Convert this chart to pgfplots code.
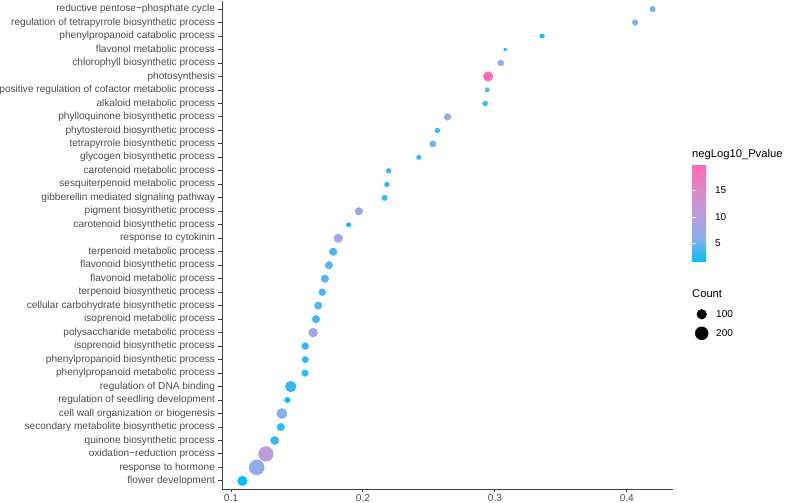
\documentclass[border=0pt]{standalone}
\usepackage{pgfplots}
\pgfplotsset{compat=1.18}
\usepackage{pgfplotstable}
\usepackage{fontspec}
\setmainfont{Liberation Sans}
\usetikzlibrary{calc}

\pgfplotstableread{
y x c p
36 0.4195 30 5.2
35 0.4063 30 5.5
34 0.3358 23 2.3
33 0.3078 20 1.8
32 0.3045 37 7.0
31 0.2949 97 19.7
30 0.2942 23 4.5
29 0.2927 28 4.0
28 0.2642 45 7.0
27 0.2564 25 3.5
26 0.2530 37 5.5
25 0.2424 23 2.8
24 0.2195 23 2.2
23 0.2182 25 2.8
22 0.2164 30 3.5
21 0.1970 56 8.0
20 0.1892 22 1.8
19 0.1813 74 8.5
18 0.1775 56 4.0
17 0.1742 56 4.5
16 0.1712 56 4.3
15 0.1692 45 3.8
14 0.1661 56 4.2
13 0.1644 56 3.8
12 0.1623 81 8.0
11 0.1563 45 3.2
10 0.1563 37 2.8
9 0.1561 41 2.8
8 0.1453 132 3.2
7 0.1428 30 1.7
6 0.1386 115 6.0
5 0.1377 56 3.2
4 0.1331 68 3.2
3 0.1265 275 10.5
2 0.1195 290 7.0
1 0.1087 97 1.55
}\godata

\pgfplotstableread{
x y c
9.7 38.7 100
9.7 19.7 200
}\sizedata

\pgfplotsset{
  colormap={ggpink}{rgb255(0)=(0,191,255) rgb255(1)=(137,175,236) rgb255(2)=(188,156,217) rgb255(3)=(225,134,198) rgb255(4)=(255,105,180)},
  sizemarks/.style={
    visualization depends on={\thisrow{c} \as \cnt},
    scatter/@pre marker code/.append style={/tikz/mark size={(3.3+11.8*sqrt((\cnt-20)/270))/2}},
  },
}
\newcommand{\axfont}{\fontsize{10.1pt}{12pt}\selectfont}
\newcommand{\legfont}{\fontsize{10pt}{12pt}\selectfont}
\newcommand{\titfont}{\fontsize{11.2pt}{13pt}\selectfont}

\begin{document}
\begin{tikzpicture}
\path[use as bounding box] (0,0) rectangle (793pt,503pt);
\begin{axis}[
  at={(222pt,14pt)}, anchor=south west,
  scale only axis, width=451pt, height=488pt,
  xmin=0.0932, xmax=0.4350, ymin=0.4, ymax=36.6,
  axis x line*=bottom, axis y line*=left,
  axis line style={-, black!75, line width=0.9pt},
  tick align=outside, major tick length=3.5pt,
  tick style={black!75, line width=0.9pt},
  xtick={0.1,0.2,0.3,0.4},
  xticklabels={0.1,0.2,0.3,0.4},
  xticklabel style={yshift=1.6pt},
  ytick={1,...,36},
  yticklabels={flower development, response to hormone, oxidation−reduction process, quinone biosynthetic process, secondary metabolite biosynthetic process, cell wall organization or biogenesis, regulation of seedling development, regulation of DNA binding, phenylpropanoid metabolic process, phenylpropanoid biosynthetic process, isoprenoid biosynthetic process, polysaccharide metabolic process, isoprenoid metabolic process, cellular carbohydrate biosynthetic process, terpenoid biosynthetic process, flavonoid metabolic process, flavonoid biosynthetic process, terpenoid metabolic process, response to cytokinin, carotenoid biosynthetic process, pigment biosynthetic process, gibberellin mediated signaling pathway, sesquiterpenoid metabolic process, carotenoid metabolic process, glycogen biosynthetic process, tetrapyrrole biosynthetic process, phytosteroid biosynthetic process, phylloquinone biosynthetic process, alkaloid metabolic process, positive regulation of cofactor metabolic process, photosynthesis, chlorophyll biosynthetic process, flavonol metabolic process, phenylpropanoid catabolic process, regulation of tetrapyrrole biosynthetic process, reductive pentose−phosphate cycle},
  ticklabel style={font=\axfont, text=black!70},
  colormap name=ggpink,
  point meta min=1.55, point meta max=19.7,
  colorbar shift/.style={xshift=0pt},
  colorbar,
  colorbar style={
    at={($(parent axis.south west)+(470pt,324pt)$)}, anchor=north west,
    xshift=0pt,
    scale only axis, width=19.5pt, height=97pt,
    ytick={5,10,15}, yticklabels={5,10,15},
    ytick pos=both, yticklabel pos=right,
    tick align=inside, major tick length=3.9pt,
    tick style={white, line width=0.6pt},
    axis line style={draw=none},
    yticklabel style={font=\legfont, text=black},
    title={negLog10\_Pvalue},
    title style={at={(0,1)}, anchor=base west, yshift=1pt, inner sep=0pt, font=\titfont},
  },
  clip=false,
]
\addplot[scatter, only marks, mark=*,
  point meta=\thisrow{p},
  scatter/use mapped color={draw=mapped color, fill=mapped color, line width=0.4pt},
  sizemarks,
] table[x=x, y=y] {\godata};
\end{axis}

\begin{axis}[
  at={(692pt,150pt)}, anchor=south west,
  scale only axis, width=100pt, height=60pt,
  xmin=0, xmax=100, ymin=0, ymax=60,
  hide axis, clip=false,
]
\addplot[scatter, only marks, mark=*,
  point meta=\thisrow{c},
  scatter/use mapped color={draw=black, fill=black, line width=0.4pt},
  sizemarks,
] table[x=x, y=y] {\sizedata};
\node[anchor=west, inner sep=0pt, font=\legfont] at (axis cs:24,38.7) {100};
\node[anchor=west, inner sep=0pt, font=\legfont] at (axis cs:24,19.7) {200};
\node[anchor=base west, inner sep=0pt, font=\titfont] at (axis cs:0,55.5) {Count};
\end{axis}
\end{tikzpicture}
\end{document}
